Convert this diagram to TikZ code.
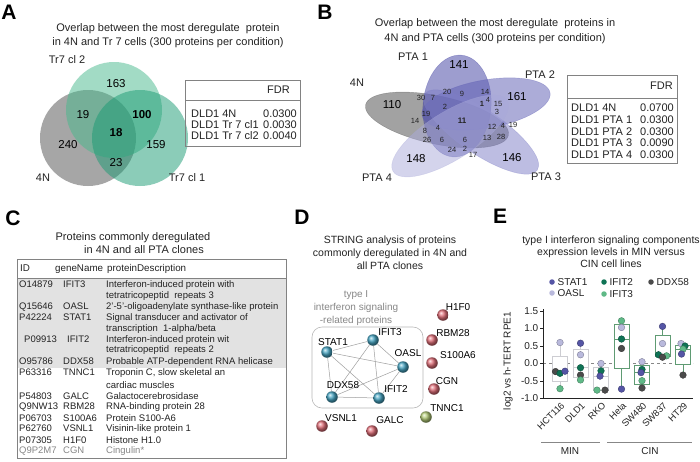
\documentclass[tikz,border=0pt]{standalone}
\usepackage{fontspec}
\setmainfont{Liberation Sans}
\usetikzlibrary{positioning}

\definecolor{inkgray}{RGB}{35, 35, 35}
\definecolor{framegray}{RGB}{130, 130, 130}
\definecolor{shadegray}{RGB}{226, 226, 226}
\definecolor{softgray}{RGB}{135, 135, 135}
\definecolor{trtwo}{RGB}{70, 185, 140}
\definecolor{trone}{RGB}{25, 155, 115}
\definecolor{fourn}{RGB}{70, 70, 70}
\definecolor{ptaone}{RGB}{60, 60, 160}
\definecolor{ptatwo}{RGB}{90, 90, 178}
\definecolor{ptathree}{RGB}{125, 125, 198}
\definecolor{ptafour}{RGB}{170, 170, 218}
\definecolor{strblue}{RGB}{70, 165, 195}
\definecolor{strred}{RGB}{225, 110, 120}
\definecolor{strgreen}{RGB}{180, 205, 120}
\definecolor{gstat}{RGB}{85, 85, 165}
\definecolor{goasl}{RGB}{185, 185, 220}
\definecolor{gifitb}{RGB}{15, 115, 85}
\definecolor{gifitc}{RGB}{95, 185, 135}
\definecolor{gddx}{RGB}{75, 75, 75}
\definecolor{minline}{RGB}{205, 205, 210}
\definecolor{cinline}{RGB}{95, 155, 115}

% one row of the protein table: id, gene, description
\newcommand{\crow}[3]{\makebox[44pt][l]{#1}\makebox[43pt][l]{#2}#3}
% log2 value -> vertical position in panel E
\newcommand{\ev}[1]{363.5-35*(#1)}
% box plot: centre, style, max, q3, median, q1, min
\newcommand{\ebox}[7]{%
  \draw[#2] (#1,{\ev{#3}}) -- (#1,{\ev{#4}});
  \draw[#2] (#1,{\ev{#6}}) -- (#1,{\ev{#7}});
  \draw[#2, fill=white] ({#1-7.5},{\ev{#4}}) rectangle ({#1+7.5},{\ev{#6}});
  \draw[#2] ({#1-7.5},{\ev{#5}}) -- ({#1+7.5},{\ev{#5}});
}
\newcommand{\ept}[3]{\fill[#3, draw=#3!70!black, line width=0.4pt] (#1,{\ev{#2}}) circle [radius=3.3];}

\begin{document}
\begin{tikzpicture}[
    x = 1pt, y = -1pt,
    panel/.style   = {font=\fontsize{21}{21}\selectfont\bfseries, text=black, inner sep=0pt},
    title/.style   = {font=\fontsize{11}{14}\selectfont, text=inkgray, align=center, inner sep=0pt},
    vbig/.style    = {font=\fontsize{11.5}{11.5}\selectfont, text=black, inner sep=0pt},
    vsmall/.style  = {font=\fontsize{7.5}{7.5}\selectfont, text=inkgray, inner sep=0pt},
    vlabel/.style  = {font=\fontsize{11}{11}\selectfont, text=inkgray, inner sep=0pt},
    fdr/.style     = {font=\fontsize{11}{11}\selectfont, text=inkgray, inner sep=0pt},
    tframe/.style  = {draw=framegray, line width=0.6pt},
    crowtxt/.style = {font=\fontsize{9.5}{9.5}\selectfont, text=inkgray, anchor=west, inner sep=0pt},
    gene/.style    = {circle, minimum size=11.5pt, inner sep=0pt, shading=ball},
    glabel/.style  = {font=\fontsize{10}{10}\selectfont, text=black, inner sep=0pt},
    slink/.style   = {draw=softgray!80, line width=0.5pt},
    legdot/.style  = {circle, minimum size=5.5pt, inner sep=0pt},
    legtxt/.style  = {font=\fontsize{10}{10}\selectfont, text=inkgray, anchor=west, inner sep=0pt},
    tick/.style    = {font=\fontsize{10}{10}\selectfont, text=inkgray, inner sep=0pt},
    minbx/.style   = {draw=minline, line width=0.9pt},
    cinbx/.style   = {draw=cinline, line width=0.9pt}
]
\useasboundingbox[fill=white] (0,0) rectangle (700,461);

%% A
\node[panel] (pA) at (9,12) {A};
\node[title] (titA) at (168,36) {Overlap between the most deregulate\ \ protein\\in 4N and Tr 7 cells (300 proteins per condition)};
\fill[fourn, fill opacity=0.48] (88,138) circle [radius=48];
\fill[trtwo, fill opacity=0.5] (114,110) circle [radius=48];
\fill[trone, fill opacity=0.5] (140,138) circle [radius=48];
\node[vlabel] (lTrb) at (67,60) {Tr7 cl 2};
\node[vlabel] (lFourA) at (43,178) {4N};
\node[vlabel] (lTra) at (187,178) {Tr7 cl 1};
\node[vbig] (a163) at (116,84) {163};
\node[vbig] (a19) at (83,115) {19};
\node[vbig, font=\fontsize{11.5}{11.5}\selectfont\bfseries] (a100) at (142,115) {100};
\node[vbig, font=\fontsize{11.5}{11.5}\selectfont\bfseries] (a18) at (116,133) {18};
\node[vbig] (a240) at (68,145) {240};
\node[vbig] (a159) at (156,145) {159};
\node[vbig] (a23) at (116,163) {23};

\draw[tframe] (185,80) rectangle (300,146);
\draw[tframe] (185,100) -- (300,100);
\node[fdr, anchor=east] (fdrA) at (290,90) {FDR};
\node[fdr, anchor=west] (ra1) at (191,113.5) {DLD1 4N};
\node[fdr, anchor=west] (ra2) at (191,124.5) {DLD1 Tr 7 cl1};
\node[fdr, anchor=west] (ra3) at (191,135.5) {DLD1 Tr 7 cl2};
\node[fdr, anchor=east] (va1) at (297,113.5) {0.0300};
\node[fdr, anchor=east] (va2) at (297,124.5) {0.0030};
\node[fdr, anchor=east] (va3) at (297,135.5) {0.0040};

%% B
\node[panel] (pB) at (325,12) {B};
\node[title, font=\fontsize{11}{15}\selectfont] (titB) at (495,31.5) {Overlap between the most deregulate\ \ proteins in\\4N and PTA cells (300 proteins per condition)};
\begin{scope}[fill opacity=0.5, draw opacity=0.4, line width=0.4pt]
\filldraw[fill=fourn, draw=fourn, rotate around={-12:(437,120)}] (437,120) ellipse [x radius=73, y radius=24];
\filldraw[fill=ptaone, draw=ptaone, rotate around={-5:(457,106)}] (457,106) ellipse [x radius=34, y radius=51];
\filldraw[fill=ptatwo, draw=ptatwo, rotate around={10:(486,104)}] (486,104) ellipse [x radius=65, y radius=24];
\filldraw[fill=ptathree, draw=ptathree, rotate around={-34:(481,132)}] (481,132) ellipse [x radius=68, y radius=22];
\filldraw[fill=ptafour, draw=ptafour, rotate around={32:(450,136)}] (450,136) ellipse [x radius=67, y radius=24];
\end{scope}
\node[vlabel] (lPa) at (413,57) {PTA 1};
\node[vlabel] (lFourB) at (357,83) {4N};
\node[vlabel] (lPb) at (540,75) {PTA 2};
\node[vlabel] (lPc) at (546,177) {PTA 3};
\node[vlabel] (lPd) at (377,178) {PTA 4};
\node[vbig] (b141) at (459,65) {141};
\node[vbig] (b110) at (392,105) {110};
\node[vbig] (b161) at (517,97) {161};
\node[vbig] (b148) at (416,159) {148};
\node[vbig] (b146) at (512,158) {146};
\node[vsmall] (b30) at (421,98) {30};
\node[vsmall] (b7) at (433,98) {7};
\node[vsmall] (b20) at (447,92) {20};
\node[vsmall] (b9) at (462,94) {9};
\node[vsmall] (b14a) at (485,92) {14};
\node[vsmall] (b4a) at (488,100) {4};
\node[vsmall] (b15) at (498,104) {15};
\node[vsmall, font=\fontsize{7.5}{7.5}\selectfont\bfseries] (b1) at (482,104) {1};
\node[vsmall] (b3) at (497,112) {3};
\node[vsmall] (b2a) at (445,107) {2};
\node[vsmall] (b19a) at (426,114) {19};
\node[vsmall] (b14b) at (415,121) {14};
\node[vsmall, font=\fontsize{8}{8}\selectfont\bfseries] (b11) at (462,121) {11};
\node[vsmall] (b12) at (492,127) {12};
\node[vsmall] (b4b) at (503,126) {4};
\node[vsmall] (b19b) at (513,125) {19};
\node[vsmall] (b8) at (425,131) {8};
\node[vsmall] (b4c) at (438,128) {4};
\node[vsmall] (b26) at (427,140) {26};
\node[vsmall] (b6a) at (442,140) {6};
\node[vsmall] (b6b) at (465,140) {6};
\node[vsmall] (b13) at (487,138) {13};
\node[vsmall] (b28) at (501,137) {28};
\node[vsmall] (b24) at (452,150) {24};
\node[vsmall] (b2b) at (465,149) {2};
\node[vsmall] (b17) at (473,155) {17};

\draw[tframe] (567,75) rectangle (677,163);
\draw[tframe] (567,98) -- (677,98);
\node[fdr, anchor=east] (fdrB) at (673,86) {FDR};
\node[fdr, anchor=west] (rb1) at (571,108) {DLD1 4N};
\node[fdr, anchor=west] (rb2) at (571,120) {DLD1 PTA 1};
\node[fdr, anchor=west] (rb3) at (571,131.5) {DLD1 PTA 2};
\node[fdr, anchor=west] (rb4) at (571,143) {DLD1 PTA 3};
\node[fdr, anchor=west] (rb5) at (571,155) {DLD1 PTA 4};
\node[fdr, anchor=east] (vb1) at (674,108) {0.0700};
\node[fdr, anchor=east] (vb2) at (674,120) {0.0300};
\node[fdr, anchor=east] (vb3) at (674,131.5) {0.0300};
\node[fdr, anchor=east] (vb4) at (674,143) {0.0090};
\node[fdr, anchor=east] (vb5) at (674,155) {0.0300};

%% C
\node[panel] (pC) at (13,218) {C};
\node[title] (titC1) at (133,238) {Proteins commonly deregulated};
\node[title] (titC2) at (144,250) {in 4N and all PTA clones};
\fill[shadegray] (17,278) rectangle (286,368);
\draw[tframe] (17,259) rectangle (286,458);
\draw[tframe] (17,278) -- (286,278);
\node[crowtxt, font=\fontsize{9.8}{9.8}\selectfont] (chead) at (20,269) {\makebox[35pt][l]{ID}\makebox[52pt][l]{geneName}proteinDescription};
\node[crowtxt] (c01) at (19,285) {\crow{O14879}{IFIT3}{Interferon-induced protein with}};
\node[crowtxt] (c02) at (19,296) {\crow{}{}{tetratricopeptid\ \ repeats 3}};
\node[crowtxt] (c03) at (19,307) {\crow{Q15646}{OASL}{2'-5'-oligoadenylate synthase-like protein}};
\node[crowtxt] (c04) at (19,318) {\crow{P42224}{STAT1}{Signal transducer and activator of}};
\node[crowtxt] (c05) at (19,329.5) {\crow{}{}{transcription\ \ 1-alpha/beta}};
\node[crowtxt] (c06) at (19,340) {\crow{\hspace{5pt}P09913}{\hspace{4pt}IFIT2}{Interferon-induced protein wit}};
\node[crowtxt] (c07) at (19,350.5) {\crow{}{}{tetratricopeptid\ \ repeats 2}};
\node[crowtxt] (c08) at (19,362) {\crow{O95786}{DDX58}{Probable ATP-dependent RNA helicase}};
\node[crowtxt] (c09) at (19,373) {\crow{P63316}{TNNC1}{Troponin C, slow skeletal an}};
\node[crowtxt] (c10) at (19,385) {\crow{}{}{cardiac muscles}};
\node[crowtxt] (c11) at (19,396) {\crow{P54803}{GALC}{Galactocerebrosidase}};
\node[crowtxt] (c12) at (19,407) {\crow{Q9NW13}{RBM28}{RNA-binding protein 28}};
\node[crowtxt] (c13) at (19,418.5) {\crow{P06703}{S100A6}{Protein S100-A6}};
\node[crowtxt] (c14) at (19,429.5) {\crow{P62760}{VSNL1}{Visinin-like protein 1}};
\node[crowtxt] (c15) at (19,440.5) {\crow{P07305}{H1F0}{Histone H1.0}};
\node[crowtxt, text=softgray] (c16) at (19,451.5) {\crow{Q9P2M7}{CGN}{Cingulin*}};

%% D
\node[panel] (pD) at (302,217) {D};
\node[title, font=\fontsize{10.5}{13}\selectfont] (titD) at (390,253) {STRING analysis of proteins\\commonly deregulated in 4N and\\all PTA clones};
\node[title, font=\fontsize{10}{13}\selectfont, text=softgray] (grpD) at (356,308) {type I\\interferon signaling\\-related proteins};
\draw[draw=softgray!60, line width=0.6pt, rounded corners=10pt] (312,327) rectangle (423,408);
\node[gene, ball color=strblue] (ifit3) at (373,340) {};
\node[gene, ball color=strblue] (stat1) at (327,352) {};
\node[gene, ball color=strblue] (oasl) at (403,367) {};
\node[gene, ball color=strblue] (ddx58) at (332,397) {};
\node[gene, ball color=strblue] (ifit2) at (379,398) {};
\node[gene, ball color=strred] (h1f0) at (443,315) {};
\node[gene, ball color=strred] (rbm28) at (432,340) {};
\node[gene, ball color=strred] (s100a6) at (432,363) {};
\node[gene, ball color=strred] (cgn) at (434,389) {};
\node[gene, ball color=strgreen] (tnnc1) at (426,417) {};
\node[gene, ball color=strred] (vsnl1) at (322,426) {};
\node[gene, ball color=strred] (galc) at (372,431) {};
\draw[slink] (stat1) -- (ifit3);
\draw[slink] (stat1) -- (oasl);
\draw[slink] (stat1) -- (ddx58);
\draw[slink] (stat1) -- (ifit2);
\draw[slink] (ifit3) -- (oasl);
\draw[slink] (ifit3) -- (ddx58);
\draw[slink] (ifit3) -- (ifit2);
\draw[slink] (oasl) -- (ddx58);
\draw[slink] (oasl) -- (ifit2);
\draw[slink] (ddx58) -- (ifit2);
\node[glabel] (tIfit3) at (390,332) {IFIT3};
\node[glabel] (tStat1) at (333,342) {STAT1};
\node[glabel] (tOasl) at (408,353) {OASL};
\node[glabel] (tDdx58) at (343,385) {DDX58};
\node[glabel] (tIfit2) at (396,389) {IFIT2};
\node[glabel] (tH1f0) at (458,307) {H1F0};
\node[glabel] (tRbm28) at (453,333) {RBM28};
\node[glabel] (tS100a6) at (458,355) {S100A6};
\node[glabel] (tCgn) at (447,381) {CGN};
\node[glabel] (tTnnc1) at (447,408) {TNNC1};
\node[glabel] (tVsnl1) at (341,418) {VSNL1};
\node[glabel] (tGalc) at (390,420) {GALC};

%% E
\node[panel] (pE) at (500,216) {E};
\node[title, font=\fontsize{10.5}{12}\selectfont] (titE) at (611,252) {type I interferon signaling components\\expression levels in MIN versus\\CIN cell lines};
\node[legdot, fill=gstat] (dStat) at (552,282) {};
\node[legtxt] (kStat) at (557.5,282) {STAT1};
\node[legdot, fill=goasl] (dOasl) at (552,293) {};
\node[legtxt] (kOasl) at (557.5,293) {OASL};
\node[legdot, fill=gifitb] (dIfitb) at (604,282) {};
\node[legtxt] (kIfitb) at (609.5,282) {IFIT2};
\node[legdot, fill=gifitc] (dIfitc) at (604,294) {};
\node[legtxt] (kIfitc) at (609.5,294) {IFIT3};
\node[legdot, fill=gddx] (dDdx) at (651,282) {};
\node[legtxt] (kDdx) at (656.5,282) {DDX58};

\node[tick, rotate=90] (ylab) at (508,361) {log2 vs h-TERT RPE1};
\draw[draw=softgray, dashed, line width=0.5pt] (543,{\ev{0}}) -- (693,{\ev{0}});
\foreach \v/\lab [count=\k] in {1.5/1.5, 1.0/1.0, 0.5/0.5, 0.0/0.0, -0.5/-0.5, -1.0/-1.0} {
    \draw[draw=inkgray, line width=0.6pt] (543,{\ev{\v}}) -- (540,{\ev{\v}});
    \node[tick, anchor=east] (yt\k) at (538.5,{\ev{\v}}) {\lab};
}
\ebox{560}{minbx}{0.6}{0.19}{-0.23}{-0.5}{-0.72}
\ebox{580.5}{minbx}{0.58}{0.415}{-0.12}{-0.4}{-0.47}
\ebox{601}{minbx}{0.0}{-0.105}{-0.36}{-0.76}{-0.76}
\ebox{621.5}{cinbx}{1.22}{1.125}{0.7}{-0.15}{-0.73}
\ebox{642}{cinbx}{0.05}{-0.06}{-0.26}{-0.595}{-0.7}
\ebox{662.5}{cinbx}{1.06}{0.815}{0.25}{0.2}{0.18}
\ebox{683}{cinbx}{0.57}{0.53}{0.41}{-0.03}{-0.33}
\draw[draw=inkgray, line width=0.7pt] (543,309) -- (543,{\ev{-1.0}}) -- (693,{\ev{-1.0}});
% points per cell line
\ept{560}{0.6}{goasl}
\ept{555.5}{-0.23}{gddx}
\ept{560}{-0.28}{gifitb}
\ept{565}{-0.22}{gstat}
\ept{560}{-0.72}{gifitc}
\ept{580.5}{0.58}{gstat}
\ept{580.5}{0.25}{goasl}
\ept{580.5}{-0.12}{gifitb}
\ept{580.5}{-0.33}{gddx}
\ept{580.5}{-0.47}{gifitc}
\ept{601}{0.0}{goasl}
\ept{601}{-0.21}{gifitb}
\ept{600}{-0.36}{gstat}
\ept{597}{-0.76}{gifitc}
\ept{605}{-0.76}{gddx}
\ept{621.5}{1.22}{gifitc}
\ept{621.5}{1.03}{goasl}
\ept{621.5}{0.7}{gifitb}
\ept{621.5}{0.43}{gddx}
\ept{621.5}{-0.73}{gstat}
\ept{642}{0.05}{goasl}
\ept{642}{-0.17}{gifitb}
\ept{641}{-0.26}{gstat}
\ept{642}{-0.49}{gifitc}
\ept{642}{-0.7}{gddx}
\ept{662.5}{1.06}{gstat}
\ept{662.5}{0.57}{goasl}
\ept{658.5}{0.25}{gifitb}
\ept{666.5}{0.22}{gifitc}
\ept{662.5}{0.18}{gddx}
\ept{681}{0.57}{goasl}
\ept{685}{0.5}{gifitb}
\ept{683}{0.41}{gifitc}
\ept{681.5}{0.27}{gstat}
\ept{683}{-0.33}{gddx}
\foreach \c/\name [count=\k] in {560/HCT116, 580.5/DLD1, 601/RKO, 621.5/Hela, 642/SW480, 662.5/SW837, 683/HT29} {
    \node[tick, font=\fontsize{9.3}{9.3}\selectfont, rotate=45, anchor=east] (xl\k) at ({\c+3},404) {\name};
}
\draw[draw=softgray, line width=0.7pt] (541,442) -- (600,442);
\draw[draw=softgray, line width=0.7pt] (607,442) -- (692,442);
\node[tick] (gMin) at (570,451) {MIN};
\node[tick] (gCin) at (650,451) {CIN};
\end{tikzpicture}
\end{document}
